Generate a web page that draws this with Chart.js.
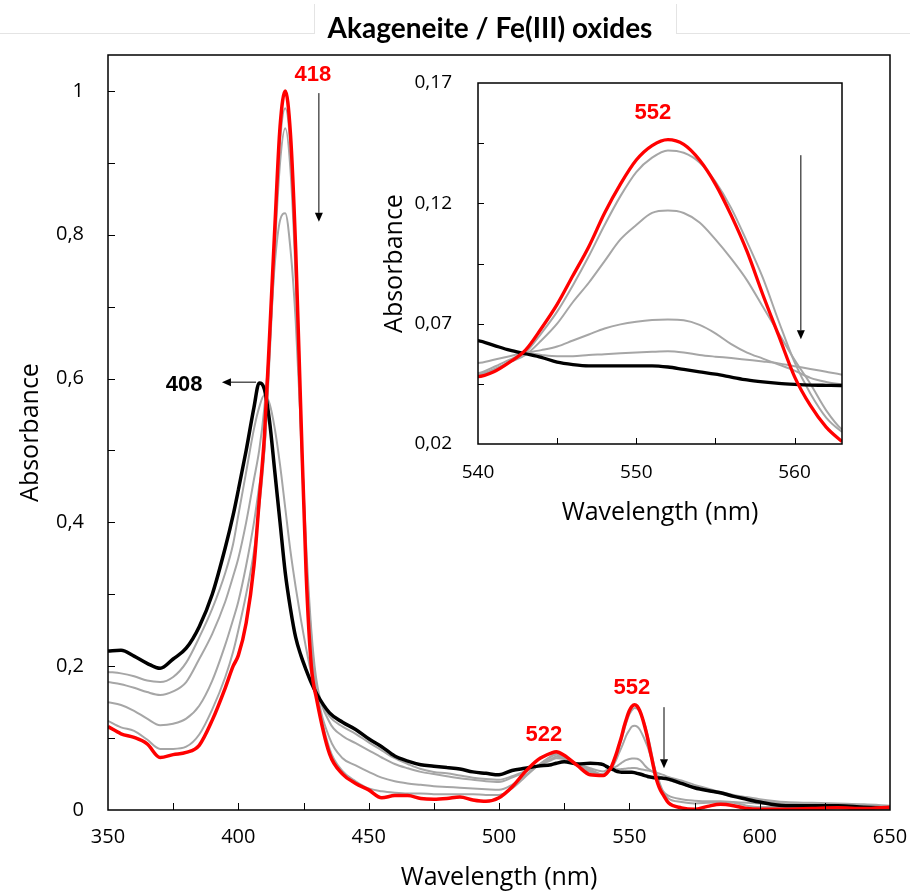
<!DOCTYPE html>
<html>
<head>
<meta charset="utf-8">
<script src="https://cdn.jsdelivr.net/npm/chart.js@4.4.1/dist/chart.umd.min.js"></script>
<style>
  body { margin: 0; background: #fff; }
  #wrap { position: relative; width: 910px; height: 893px; overflow: hidden; }
  #main { position: absolute; left: 0; top: 0; }
  #inset { position: absolute; left: 360px; top: 66px; }
</style>
</head>
<body>
<div id="wrap">
  <canvas id="main" width="910" height="893"></canvas>
  <canvas id="inset" width="500" height="470"></canvas>
</div>
<script>
// wavelength grid (nm), denser around the Soret band and the inset window
let wavelengths = [
  350, 355, 360, 365, 370, 375, 380, 385, 390, 395, 398,
  400, 403, 406, 408, 410, 412, 414, 416, 418, 420, 422, 424, 426, 428, 430,
  435, 440, 445, 450, 455, 460, 465, 470, 475, 480, 485, 490, 495, 500, 505, 510, 515, 520, 522, 525, 530, 535,
  540, 541, 542, 543, 544, 545, 546, 547, 548, 549, 550, 551, 552, 553, 554, 555, 556, 557, 558, 559, 560, 561, 562, 563,
  565, 570, 575, 580, 585, 590, 595, 600, 610, 620, 630, 640, 650
];

// starting spectrum (black)
let blackSpec = [
  0.221, 0.222, 0.214, 0.204, 0.197, 0.21, 0.225, 0.255, 0.3, 0.365, 0.41,
  0.445, 0.5, 0.56, 0.594, 0.585, 0.54, 0.47, 0.4, 0.33, 0.28, 0.24, 0.215, 0.195, 0.177, 0.162,
  0.135, 0.122, 0.112, 0.099, 0.088, 0.075, 0.068, 0.063, 0.061, 0.059, 0.057, 0.053, 0.051, 0.049, 0.055, 0.058, 0.061, 0.063, 0.065, 0.067, 0.064, 0.065,
  0.063, 0.061, 0.059, 0.0575, 0.056, 0.054, 0.053, 0.0525, 0.0525, 0.0525, 0.0525, 0.0525, 0.052, 0.051, 0.05, 0.049, 0.0478, 0.0466, 0.0458, 0.0452, 0.0448, 0.0445, 0.0444, 0.0443,
  0.043, 0.037, 0.031, 0.027, 0.024, 0.019, 0.015, 0.011, 0.006, 0.006, 0.006, 0.004, 0.003
];

// intermediate spectra (gray)
let gray1 = [
  0.192, 0.19, 0.186, 0.18, 0.178, 0.185, 0.205, 0.24, 0.28, 0.33, 0.37,
  0.41, 0.47, 0.53, 0.56, 0.577, 0.565, 0.53, 0.48, 0.42, 0.36, 0.31, 0.265, 0.225, 0.19, 0.165,
  0.13, 0.116, 0.106, 0.094, 0.083, 0.072, 0.064, 0.057, 0.053, 0.051, 0.048, 0.045, 0.043, 0.042, 0.047, 0.054, 0.062, 0.069, 0.072, 0.071, 0.065, 0.058,
  0.0537, 0.055, 0.0565, 0.0578, 0.057, 0.0565, 0.0565, 0.057, 0.0573, 0.0577, 0.058, 0.0583, 0.0585, 0.058, 0.057, 0.0563, 0.0557, 0.055, 0.0543, 0.0535, 0.0523, 0.0512, 0.05, 0.0488,
  0.046, 0.041, 0.035, 0.03, 0.025, 0.021, 0.018, 0.015, 0.011, 0.01, 0.009, 0.008, 0.006
];
let gray2 = [
  0.178, 0.175, 0.17, 0.164, 0.16, 0.165, 0.178, 0.21, 0.245, 0.29, 0.325,
  0.35, 0.4, 0.46, 0.5, 0.56, 0.65, 0.76, 0.82, 0.83, 0.78, 0.68, 0.53, 0.37, 0.25, 0.18,
  0.122, 0.103, 0.093, 0.083, 0.073, 0.064, 0.058, 0.053, 0.05, 0.047, 0.044, 0.042, 0.04, 0.039, 0.045, 0.053, 0.062, 0.071, 0.074, 0.072, 0.064, 0.056,
  0.0495, 0.052, 0.055, 0.0578, 0.059, 0.0605, 0.063, 0.0655, 0.068, 0.0697, 0.0708, 0.0715, 0.0717, 0.0714, 0.0695, 0.066, 0.0615, 0.058, 0.0555, 0.053, 0.0505, 0.0475, 0.0458, 0.0447,
  0.042, 0.036, 0.031, 0.027, 0.023, 0.019, 0.016, 0.013, 0.009, 0.008, 0.008, 0.006, 0.005
];
let gray3 = [
  0.15, 0.146, 0.138, 0.127, 0.118, 0.12, 0.127, 0.145, 0.18, 0.23, 0.265,
  0.29, 0.34, 0.4, 0.45, 0.5, 0.63, 0.78, 0.9, 0.948, 0.89, 0.74, 0.52, 0.35, 0.24, 0.17,
  0.1, 0.072, 0.062, 0.053, 0.045, 0.04, 0.037, 0.035, 0.033, 0.032, 0.031, 0.03, 0.029, 0.028, 0.035, 0.048, 0.062, 0.074, 0.077, 0.073, 0.062, 0.054,
  0.049, 0.051, 0.054, 0.057, 0.063, 0.07, 0.079, 0.087, 0.096, 0.105, 0.111, 0.116, 0.117, 0.116, 0.112, 0.105, 0.097, 0.088, 0.077, 0.066, 0.055, 0.045, 0.034, 0.026,
  0.02, 0.015, 0.013, 0.012, 0.012, 0.011, 0.01, 0.009, 0.007, 0.006, 0.006, 0.005, 0.004
];
let gray4 = [
  0.124, 0.115, 0.11, 0.098, 0.085, 0.085, 0.088, 0.105, 0.14, 0.185, 0.22,
  0.25, 0.3, 0.36, 0.42, 0.5, 0.64, 0.8, 0.93, 0.976, 0.92, 0.76, 0.54, 0.35, 0.23, 0.165,
  0.085, 0.054, 0.04, 0.03, 0.026, 0.024, 0.023, 0.023, 0.022, 0.022, 0.022, 0.022, 0.021, 0.021, 0.03, 0.046, 0.062, 0.075, 0.079, 0.074, 0.062, 0.053,
  0.049, 0.051, 0.054, 0.058, 0.066, 0.075, 0.086, 0.098, 0.111, 0.123, 0.133, 0.139, 0.142, 0.141, 0.137, 0.129, 0.118, 0.104, 0.089, 0.071, 0.054, 0.041, 0.031, 0.025,
  0.016, 0.011, 0.009, 0.01, 0.011, 0.01, 0.006, 0.004, 0.004, 0.004, 0.004, 0.003, 0.004
];

// final spectrum (red)
let redSpec = [
  0.116, 0.106, 0.101, 0.092, 0.073, 0.077, 0.08, 0.09, 0.125, 0.17, 0.2,
  0.215, 0.26, 0.34, 0.43, 0.52, 0.66, 0.81, 0.95, 1.0, 0.94, 0.78, 0.55, 0.33, 0.2, 0.155,
  0.078, 0.05, 0.037, 0.028, 0.017, 0.02, 0.02, 0.016, 0.015, 0.016, 0.018, 0.014, 0.012, 0.017, 0.032, 0.053, 0.07, 0.079, 0.081, 0.076, 0.062, 0.049,
  0.048, 0.05, 0.054, 0.059, 0.068, 0.078, 0.09, 0.102, 0.116, 0.128, 0.138, 0.144, 0.1465, 0.1445, 0.138, 0.128, 0.115, 0.1, 0.082, 0.065, 0.048, 0.036, 0.027, 0.021,
  0.01, 0.003, 0.001, 0.005, 0.008, 0.006, 0.002, 0.001, 0.001, 0.002, 0.003, 0.002, 0.004
];

// tick labels
let mainXLabels = [350, 400, 450, 500, 550, 600, 650];
let mainYValues = [0, 0.2, 0.4, 0.6, 0.8, 1];
let mainYLabels = ["0", "0,2", "0,4", "0,6", "0,8", "1"];
let insetXLabels = [540, 550, 560];
let insetYValues = [0.02, 0.07, 0.12, 0.17];
let insetYLabels = ["0,02", "0,07", "0,12", "0,17"];

// peak labels and arrows, in data units
let mainNotes = [
  { text: "418", x: 428.6, y: 1.022, color: "#ff0000" },
  { text: "408", x: 379.2, y: 0.591, color: "#000000" },
  { text: "522", x: 517.2, y: 0.104, color: "#ff0000" },
  { text: "552", x: 551.0, y: 0.170, color: "#ff0000" }
];
let mainArrows = [
  { x1: 430.9, y1: 0.997, x2: 430.9, y2: 0.818 },
  { x1: 406.8, y1: 0.595, x2: 393.7, y2: 0.595 },
  { x1: 563.3, y1: 0.143, x2: 563.3, y2: 0.058 }
];
let insetNotes = [{ text: "552", x: 551.05, y: 0.1577, color: "#ff0000" }];
let insetArrows = [{ x1: 560.4, y1: 0.140, x2: 560.4, y2: 0.0635 }];

let tickFont = { family: "'Open Sans'", size: 19 };
let titleFont = { family: "'Open Sans'", size: 25 };

function points(values) {
  return wavelengths.map((w, i) => ({ x: w, y: values[i] }));
}

function makeSets(thick, thin) {
  // first dataset is drawn on top
  let list = [
    [redSpec, "#ff0000", thick],
    [blackSpec, "#000000", thick],
    [gray4, "#a6a6a6", thin],
    [gray3, "#a6a6a6", thin],
    [gray2, "#a6a6a6", thin],
    [gray1, "#a6a6a6", thin]
  ];
  return list.map(s => ({
    data: points(s[0]),
    borderColor: s[1],
    borderWidth: s[2],
    pointRadius: 0,
    fill: false,
    cubicInterpolationMode: "monotone"
  }));
}

function labelFor(values, labels) {
  return v => {
    let i = values.findIndex(t => Math.abs(t - v) < 1e-6);
    return i >= 0 ? labels[i] : "";
  };
}

function drawArrow(ctx, x1, y1, x2, y2) {
  let ang = Math.atan2(y2 - y1, x2 - x1);
  let len = 9, half = 4;
  ctx.beginPath();
  ctx.moveTo(x1, y1);
  ctx.lineTo(x2 - Math.cos(ang) * len, y2 - Math.sin(ang) * len);
  ctx.stroke();
  ctx.beginPath();
  ctx.moveTo(x2, y2);
  ctx.lineTo(x2 - Math.cos(ang) * len - Math.sin(ang) * half, y2 - Math.sin(ang) * len + Math.cos(ang) * half);
  ctx.lineTo(x2 - Math.cos(ang) * len + Math.sin(ang) * half, y2 - Math.sin(ang) * len - Math.cos(ang) * half);
  ctx.closePath();
  ctx.fill();
}

function decorPlugin(tickLen, notes, arrows) {
  return {
    id: "decor",
    afterDraw(chart) {
      let ctx = chart.ctx;
      let a = chart.chartArea;
      let xs = chart.scales.x;
      let ys = chart.scales.y;
      ctx.save();
      ctx.strokeStyle = "#000";
      ctx.fillStyle = "#000";
      ctx.lineWidth = 1.5;
      ctx.strokeRect(a.left, a.top, a.right - a.left, a.bottom - a.top);

      // inward tick marks
      ctx.lineWidth = 1;
      xs.ticks.forEach(t => {
        if (t.value <= xs.min || t.value >= xs.max) return;
        let p = Math.round(xs.getPixelForValue(t.value)) + 0.5;
        ctx.beginPath();
        ctx.moveTo(p, a.bottom);
        ctx.lineTo(p, a.bottom - tickLen);
        ctx.stroke();
      });
      ys.ticks.forEach(t => {
        if (t.value <= ys.min + 1e-9 || t.value >= ys.max - 1e-9) return;
        let p = Math.round(ys.getPixelForValue(t.value)) + 0.5;
        ctx.beginPath();
        ctx.moveTo(a.left, p);
        ctx.lineTo(a.left + tickLen, p);
        ctx.stroke();
      });

      arrows.forEach(r => {
        drawArrow(ctx, xs.getPixelForValue(r.x1), ys.getPixelForValue(r.y1),
          xs.getPixelForValue(r.x2), ys.getPixelForValue(r.y2));
      });

      ctx.font = "bold 22px 'Liberation Sans', Arial, sans-serif";
      ctx.textAlign = "center";
      ctx.textBaseline = "middle";
      notes.forEach(n => {
        ctx.fillStyle = n.color;
        ctx.fillText(n.text, xs.getPixelForValue(n.x), ys.getPixelForValue(n.y));
      });
      ctx.restore();
    }
  };
}

let headerPlugin = {
  id: "header",
  afterDraw(chart) {
    let ctx = chart.ctx;
    ctx.save();
    ctx.strokeStyle = "#e4e4e4";
    ctx.lineWidth = 1;
    ctx.beginPath();
    ctx.moveTo(0, 33.5); ctx.lineTo(314, 33.5);
    ctx.moveTo(677, 33.5); ctx.lineTo(910, 33.5);
    ctx.moveTo(314.5, 4); ctx.lineTo(314.5, 34);
    ctx.moveTo(676.5, 4); ctx.lineTo(676.5, 34);
    ctx.stroke();
    ctx.fillStyle = "#000";
    ctx.font = "bold 28px Lato, sans-serif";
    ctx.textAlign = "center";
    ctx.textBaseline = "middle";
    ctx.fillText("Akageneite / Fe(III) oxides", 490, 29);
    ctx.restore();
  }
};

function noSidePad(s) {
  s.paddingLeft = 0;
  s.paddingRight = 0;
}
function noEndPad(s) {
  s.paddingTop = 0;
  s.paddingBottom = 0;
}

new Chart(document.getElementById("main"), {
  type: "line",
  data: { datasets: makeSets(3.5, 2) },
  options: {
    responsive: false,
    animation: false,
    layout: { padding: { top: 55, right: 20, left: 0, bottom: 0 } },
    plugins: { legend: { display: false }, tooltip: { enabled: false } },
    scales: {
      x: {
        type: "linear",
        min: 350,
        max: 650,
        grid: { display: false },
        border: { display: false },
        ticks: {
          stepSize: 25,
          includeBounds: false,
          autoSkip: false,
          maxRotation: 0,
          padding: 7,
          color: "#000",
          font: { family: "'Open Sans'", size: 20 },
          callback: v => (mainXLabels.includes(v) ? String(v) : "")
        },
        title: { display: true, text: "Wavelength (nm)", color: "#000", font: titleFont, padding: 0 },
        afterFit: s => { s.height = 83; noSidePad(s); }
      },
      y: {
        type: "linear",
        min: 0,
        max: 1.05,
        grid: { display: false },
        border: { display: false },
        ticks: {
          stepSize: 0.1,
          includeBounds: false,
          autoSkip: false,
          padding: 16,
          color: "#000",
          font: { family: "'Open Sans'", size: 20 },
          callback: labelFor(mainYValues, mainYLabels)
        },
        title: { display: true, text: "Absorbance", color: "#000", font: titleFont, padding: { top: 16, bottom: 0 } },
        afterFit: s => { s.width = 108; noEndPad(s); }
      }
    }
  },
  plugins: [decorPlugin(7, mainNotes, mainArrows), headerPlugin]
});

new Chart(document.getElementById("inset"), {
  type: "line",
  data: { datasets: makeSets(3.3, 2) },
  options: {
    responsive: false,
    animation: false,
    layout: { padding: { top: 17, right: 18, left: 0, bottom: 0 } },
    plugins: { legend: { display: false }, tooltip: { enabled: false } },
    scales: {
      x: {
        type: "linear",
        min: 540,
        max: 563,
        grid: { display: false },
        border: { display: false },
        ticks: {
          stepSize: 5,
          includeBounds: false,
          autoSkip: false,
          maxRotation: 0,
          padding: 9,
          color: "#000",
          font: tickFont,
          callback: v => (insetXLabels.includes(v) ? String(v) : "")
        },
        title: { display: true, text: "Wavelength (nm)", color: "#000", font: titleFont, padding: { top: 0, bottom: 8 } },
        afterFit: s => { s.height = 92; noSidePad(s); }
      },
      y: {
        type: "linear",
        min: 0.02,
        max: 0.17,
        grid: { display: false },
        border: { display: false },
        ticks: {
          stepSize: 0.025,
          includeBounds: false,
          autoSkip: false,
          padding: 18,
          color: "#000",
          font: tickFont,
          callback: labelFor(insetYValues, insetYLabels)
        },
        title: { display: true, text: "Absorbance", color: "#000", font: titleFont, padding: { top: 20, bottom: 0 } },
        afterFit: s => { s.width = 118; noEndPad(s); }
      }
    }
  },
  plugins: [decorPlugin(6, insetNotes, insetArrows)]
});
</script>
</body>
</html>
